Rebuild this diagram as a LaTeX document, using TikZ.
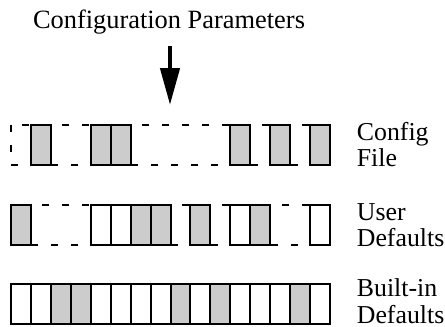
\documentclass[tikz,border=0pt]{standalone}
\usepackage{fontspec}
\setmainfont{Liberation Serif}
\usetikzlibrary{arrows.meta}
\definecolor{cellgray}{gray}{0.8}
\def\cw{19.94}% width of one cell
\tikzset{
	cell/.style={draw=black,line width=1pt},
	missing/.style={draw=black,line width=1pt,dash pattern=on 3.5pt off 6.5pt},
	rowlabel/.style={inner sep=0,align=left,anchor=base west,font=\fontsize{12.9}{13.35}\selectfont}
}

\begin{document}
\begin{tikzpicture}[x=0.5pt,y=-0.5pt]
	\useasboundingbox (0,0) rectangle (445,327);
	
	%title and arrow
	\node[inner sep=0,anchor=base,font=\fontsize{13.2}{13.4}\selectfont] (params) at (169,28.5) {Configuration Parameters};
	\coordinate (arrtop) at (170,46);
	\coordinate (arrtip) at (170,105);
	\draw[line width=2.2pt,-{Triangle[length=18.5pt,width=9.5pt]}] (arrtop)--(arrtip);
	
	%config file row
	\draw[missing] (11,125) rectangle (330,165);
	\foreach \i in {1,4,5,11,13,15}
		\draw[cell,fill=cellgray] ({11+\i*\cw},125) rectangle +(\cw,40);
	\node[rowlabel] (cfglbl) at (356.5,166.7) {Config\\File};	%base = last line
	
	%user defaults row
	\draw[missing] (11,205) rectangle (330,245);
	\foreach \i in {4,5,11,15}
		\draw[cell,fill=white] ({11+\i*\cw},205) rectangle +(\cw,40);
	\foreach \i in {0,6,7,9,12}
		\draw[cell,fill=cellgray] ({11+\i*\cw},205) rectangle +(\cw,40);
	\node[rowlabel] (usrlbl) at (356.5,246.7) {User\\Defaults};
	
	%built-in defaults row
	\foreach \i in {0,...,15}
		\draw[cell,fill=white] ({11+\i*\cw},284) rectangle +(\cw,40);
	\foreach \i in {2,3,8,10,14}
		\draw[cell,fill=cellgray] ({11+\i*\cw},284) rectangle +(\cw,40);
	\node[rowlabel] (bltlbl) at (356.5,323) {Built-in\\Defaults};
	
\end{tikzpicture}
\end{document}
